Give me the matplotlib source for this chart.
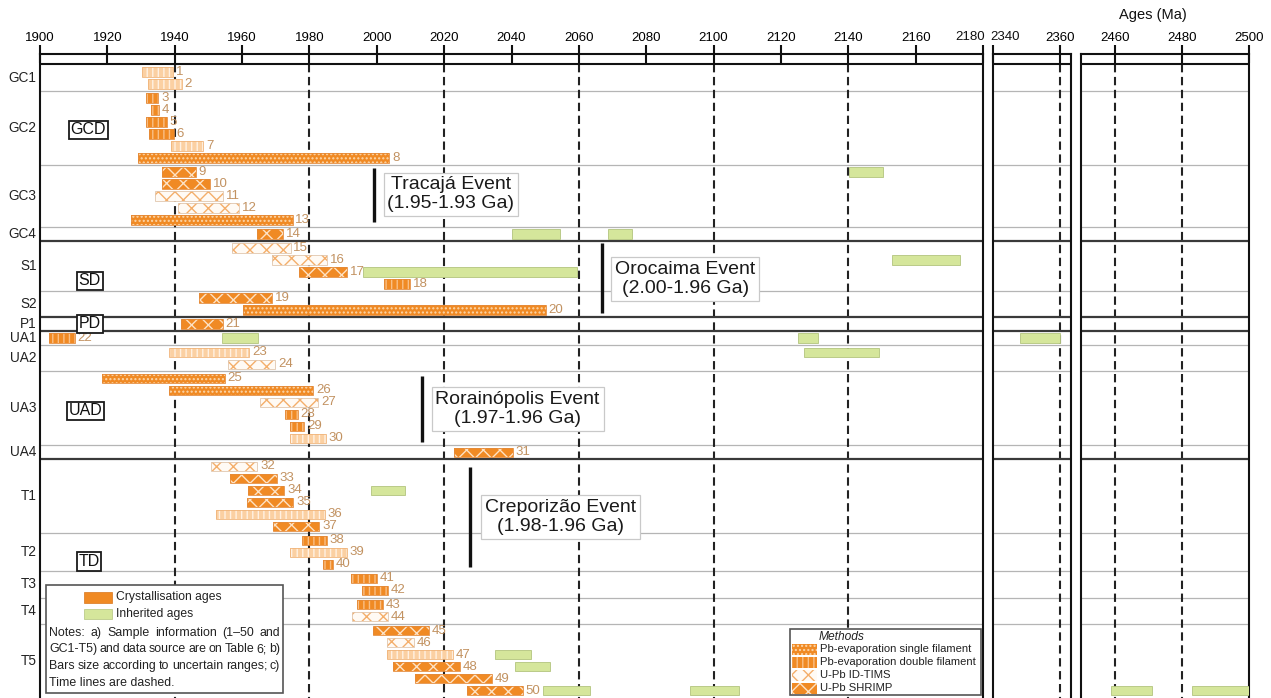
import matplotlib
matplotlib.use("Agg")
import matplotlib.pyplot as plt
from matplotlib import font_manager
from matplotlib.patches import Rectangle
from matplotlib.transforms import blended_transform_factory

plt.rcParams["font.family"] = ["Liberation Sans", "DejaVu Sans"]
plt.rcParams["hatch.linewidth"] = 1.0

_installed = {f.name for f in font_manager.fontManager.ttflist}
NARROW = "Liberation Sans Narrow" if "Liberation Sans Narrow" in _installed else "Liberation Sans"

# ---------------------------------------------------------------- data
sample_ids = list(range(1, 51))
age_min = [1930.2, 1932.2, 1931.4, 1932.9, 1931.4, 1932.5, 1938.8, 1929.0, 1936.3, 1936.3,
           1934.1, 1941.1, 1927.0, 1964.5, 1956.9, 1968.8, 1977.0, 2002.1, 1947.2, 1960.4,
           1941.9, 1902.8, 1938.4, 1955.7, 1918.3, 1938.3, 1965.3, 1972.7, 1974.2, 1974.2,
           2022.9, 1950.8, 1956.4, 1961.8, 1961.4, 1952.3, 1969.3, 1977.8, 1974.2, 1984.1,
           1992.3, 1995.7, 1994.2, 1992.5, 1998.8, 2002.9, 2002.9, 2004.9, 2011.3, 2026.7]
age_max = [1939.6, 1942.1, 1935.1, 1935.4, 1937.6, 1939.8, 1948.5, 2003.7, 1946.3, 1950.5,
           1954.4, 1959.2, 1975.0, 1972.2, 1974.4, 1985.3, 1991.2, 2009.9, 1968.8, 2050.1,
           1954.2, 1910.4, 1962.1, 1969.8, 1954.9, 1981.1, 1982.6, 1976.5, 1978.5, 1984.9,
           2040.3, 1964.5, 1970.3, 1972.5, 1975.2, 1984.6, 1982.9, 1985.1, 1991.1, 1986.9,
           2000.1, 2003.2, 2001.7, 2003.2, 2015.6, 2010.9, 2022.7, 2024.7, 2034.1, 2043.3]
# PbSF = Pb-evaporation single filament, PbDF = Pb-evaporation double filament,
# PbDF-p = double filament (pale), TIMS = U-Pb ID-TIMS, SHRIMP = U-Pb SHRIMP
method = ["PbDF-p", "PbDF-p", "PbDF", "PbDF", "PbDF", "PbDF", "PbDF-p", "PbSF", "SHRIMP", "SHRIMP",
          "TIMS", "TIMS", "PbSF", "SHRIMP", "TIMS", "TIMS", "SHRIMP", "PbDF", "SHRIMP", "PbSF",
          "SHRIMP", "PbDF", "PbDF-p", "TIMS", "PbSF", "PbSF", "TIMS", "PbDF", "PbDF", "PbDF-p",
          "SHRIMP", "TIMS", "SHRIMP", "SHRIMP", "SHRIMP", "PbDF-p", "SHRIMP", "PbDF", "PbDF-p", "PbDF",
          "PbDF", "PbDF", "PbDF", "TIMS", "SHRIMP", "TIMS", "PbDF-p", "SHRIMP", "SHRIMP", "SHRIMP"]

group_names = ["GC1", "GC2", "GC3", "GC4", "S1", "S2", "P1", "UA1", "UA2", "UA3", "UA4",
               "T1", "T2", "T3", "T4", "T5"]
group_members = [[1, 2], [3, 4, 5, 6, 7, 8], [9, 10, 11, 12, 13], [14],
                 [15, 16, 17, 18], [19, 20], [21], [22], [23, 24],
                 [25, 26, 27, 28, 29, 30], [31], [32, 33, 34, 35, 36, 37],
                 [38, 39, 40], [41, 42], [43, 44], [45, 46, 47, 48, 49, 50]]
group_domain = ["GCD", "GCD", "GCD", "GCD", "SD", "SD", "PD", "UAD", "UAD", "UAD", "UAD",
                "TD", "TD", "TD", "TD", "TD"]

inherited_sample = [9, 14, 14, 16, 17, 22, 22, 22, 23, 34, 47, 48, 50, 50, 50, 50]
inherited_min = [2140.3, 2040.0, 2068.7, 2152.9, 1995.8, 1954.0, 2125.0, 2348.0, 2126.8,
                 1998.3, 2035.1, 2041.0, 2049.4, 2093.0, 2459.0, 2483.0]
inherited_max = [2150.2, 2054.4, 2075.7, 2173.2, 2059.3, 1964.6, 2131.1, 2360.0, 2149.2,
                 2008.4, 2045.7, 2051.4, 2063.3, 2107.6, 2471.0, 2500.0]

event_names = ["Tracajá Event", "Orocaima Event", "Rorainópolis Event", "Creporizão Event"]
event_ranges = ["(1.95-1.93 Ga)", "(2.00-1.96 Ga)", "(1.97-1.96 Ga)", "(1.98-1.96 Ga)"]

ticks_main = list(range(1900, 2181, 20))
ticks_mid = [2340, 2360]
ticks_right = [2460, 2480, 2500]
time_lines = [1940, 1980, 2020, 2060, 2100, 2140, 2360, 2460, 2480]

notes_lines = ["Notes: a) Sample information (1\u201350 and",
               "GC1-T5) and data source are on Table 6; b)",
               "Bars size according to uncertain ranges; c)",
               "Time lines are dashed."]
age_type_labels = ["Crystallisation ages", "Inherited ages"]
method_labels = ["Pb-evaporation single filament", "Pb-evaporation double filament",
                 "U-Pb ID-TIMS", "U-Pb SHRIMP"]
method_codes = ["PbSF", "PbDF", "TIMS", "SHRIMP"]

# ---------------------------------------------------------------- styles
ORANGE = "#f08a24"
GREEN = "#d5e69b"
GREEN_EDGE = "#b3c47e"
LABEL_COLOR = "#c29261"
STYLES = {  # fill, hatch colour, hatch, edge
    "PbSF": (ORANGE, "#fcd6aa", "....", "#e48a3a"),
    "PbDF": (ORANGE, "#f9bf85", "|||", "#e48a3a"),
    "PbDF-p": ("#fbd0a2", "#fff1e2", "|||", "#f0b47a"),
    "TIMS": ("#fffaf4", "#f4ae6a", "xx", "#e0c6ad"),
    "SHRIMP": (ORANGE, "#fde2c4", "xx", "#e48a3a"),
}
BAR_H = 0.8
GAP = 0.17

W, H = 1271, 698
fig = plt.figure(figsize=(W / 100, H / 100), dpi=100)

# row layout: one slot per sample, a small extra gap between groups
row_y = {}
y = 0.0
for gi, members in enumerate(group_members):
    if gi > 0:
        y += GAP
    for s in members:
        row_y[s] = y
        y += 1
Y_TOP, Y_BAND, Y_BOTTOM = -1.5, -0.667, 52.17

PX_PER_MA = 3.368
TOP_PX = 54
panels = [(40, 1900, 2180, ticks_main),
          (992.7, 2340, 2340 + 78 / PX_PER_MA, ticks_mid),
          (1081.0, 2450, 2500, ticks_right)]
# labels of the two ticks where the panels meet are set by hand (ragged alignment)
edge_labels = {2180: ("right", 984.5), 2340: ("left", 990.5)}

axes = []
for left_px, x0, x1, ticks in panels:
    width_px = (x1 - x0) * PX_PER_MA
    ax = fig.add_axes([left_px / W, 0, width_px / W, (H - TOP_PX) / H])
    ax.set_xlim(x0, x1)
    ax.set_ylim(Y_BOTTOM, Y_TOP)
    ax.set_yticks([])
    ax.set_xticks(ticks, labels=["" if t in edge_labels else str(t) for t in ticks])
    ax.tick_params(axis="x", top=True, bottom=False, labeltop=True, labelbottom=False,
                   direction="inout", length=13, width=1.5, labelsize=9.5, pad=0.5,
                   color="#111")
    for side in ("top", "left", "right"):
        ax.spines[side].set_linewidth(1.5)
        ax.spines[side].set_color("#111")
    ax.spines["bottom"].set_visible(False)
    ax.axhline(Y_BAND, color="#111", lw=1.5, zorder=2)

    # time lines
    for t in time_lines:
        if x0 < t < x1:
            ax.vlines(t, Y_BAND, Y_BOTTOM, colors="#222", lw=1.5,
                      linestyles=(0, (4, 2.2)), zorder=1)

    # group / domain separators
    for gi in range(1, len(group_members)):
        ysep = (row_y[group_members[gi - 1][-1]] + row_y[group_members[gi][0]]) / 2
        if group_domain[gi] != group_domain[gi - 1]:
            ax.axhline(ysep, color="#3a3a3a", lw=1.6, zorder=2)
        else:
            ax.axhline(ysep, color="#b5b5b5", lw=0.9, zorder=0.5)

    # inherited ages
    for s, a, b in zip(inherited_sample, inherited_min, inherited_max):
        ax.barh(row_y[s], b - a, left=a, height=BAR_H, color=GREEN,
                edgecolor=GREEN_EDGE, lw=0.6, zorder=3)
    axes.append(ax)

ax1 = axes[0]

# crystallisation ages
for s, a, b, m in zip(sample_ids, age_min, age_max, method):
    fc, hc, hatch, ec = STYLES[m]
    yy = row_y[s]
    ax1.barh(yy, b - a, left=a, height=BAR_H, color=fc, lw=0, zorder=3)
    ax1.barh(yy, b - a, left=a, height=BAR_H, facecolor="none", edgecolor=hc, lw=0,
             hatch=hatch, zorder=3.1)
    ax1.barh(yy, b - a, left=a, height=BAR_H, facecolor="none", edgecolor=ec, lw=0.6,
             zorder=3.2)
    ax1.annotate(str(s), xy=(b, yy), xytext=(2.0, 0), textcoords="offset points",
                 va="center", ha="left", fontsize=9.5, color=LABEL_COLOR, zorder=6)

# group labels on the left
lbl_tr = blended_transform_factory(ax1.transAxes, ax1.transData)
for name, members in zip(group_names, group_members):
    yc = (row_y[members[0]] + row_y[members[-1]]) / 2
    ax1.text(-0.0035, yc, name, transform=lbl_tr, ha="right", va="center",
             fontsize=9.8, color="#222")

# domain boxes
domain_names = ["GCD", "SD", "PD", "UAD", "TD"]
domain_pos = [(1914.3, 4.83), (1914.8, 17.4), (1914.8, 21.0), (1913.5, 28.25), (1914.6, 40.8)]
for name, (dx, dy) in zip(domain_names, domain_pos):
    ax1.text(dx, dy, name, ha="center", va="center", fontsize=11.5, color="#111", zorder=6,
             bbox=dict(boxstyle="square,pad=0.1", fc="white", ec="#1a1a1a", lw=1.3))

# event markers
event_line_x = [1999.2, 2066.8, 2013.4, 2027.7]
event_line_y = [(8.0, 12.5), (14.25, 20.1), (25.3, 30.8), (32.9, 41.25)]
event_text_pos = [(2022.0, 10.2), (2091.6, 17.25), (2041.8, 28.1), (2054.5, 37.1)]
for name, rng, lx, (ly0, ly1), (tx, ty) in zip(event_names, event_ranges, event_line_x,
                                               event_line_y, event_text_pos):
    ax1.plot([lx, lx], [ly0, ly1], color="#111", lw=2.4, solid_capstyle="butt", zorder=6)
    ax1.text(tx, ty, name + "\n" + rng, ha="center", va="center", fontsize=14,
             linespacing=1.15, color="#1a1a1a", zorder=7,
             bbox=dict(boxstyle="square,pad=0.2", fc="white", ec="#c9c9c9", lw=0.9))

# ---------------------------------------------------------------- overlay in pixel units
ov = fig.add_axes([0, 0, 1, 1])
ov.set_xlim(0, W)
ov.set_ylim(H, 0)
ov.axis("off")
ov.set_zorder(10)
ov.patch.set_alpha(0)

ov.text(1153, 15, "Ages (Ma)", ha="center", va="center", fontsize=10.5, color="#111")
for t, (ha, xpx) in edge_labels.items():
    ov.text(xpx, 37.5, str(t), ha=ha, va="center", fontsize=9.5, color="#111")

renderer = fig.canvas.get_renderer()


def text_width(s, size, **kw):
    t = ov.text(0, 0, s, fontsize=size, family=NARROW, **kw)
    w = t.get_window_extent(renderer).width
    t.remove()
    return w


def words_width(line, size, min_space):
    words = line.split(" ")
    return sum(text_width(w, size) for w in words) + min_space * (len(words) - 1)


# size the notes font so the widest justified line fits its box with tight spaces
NOTE_W = 231
widest = max(words_width(line, 10.0, 2.5) for line in notes_lines[:3])
note_size = min(10.0, 10.0 * NOTE_W / widest)

# legend: age types and notes
legend_size = 10.0 * 106 / text_width(age_type_labels[0], 10.0)
ov.add_patch(Rectangle((46, 585), 237, 108, fc="white", ec="#555", lw=1.2))
ov.add_patch(Rectangle((84, 592), 28, 10.5, fc=ORANGE, ec="#d8761c", lw=0.5))
ov.add_patch(Rectangle((84, 609), 28, 10, fc=GREEN, ec=GREEN_EDGE, lw=0.5))
for label, yc in zip(age_type_labels, [597, 614]):
    ov.text(116, yc, label, va="center", ha="left", fontsize=legend_size,
            family=NARROW, color="#222")


def justified_line(text, x_left, x_right, yc, justify, **kw):
    words = text.split(" ")
    if not justify:
        ov.text(x_left, yc, text, va="center", ha="left", **kw)
        return
    objs = [ov.text(0, yc, w, va="center", ha="left", **kw) for w in words]
    widths = [o.get_window_extent(renderer).width for o in objs]
    space = (x_right - x_left - sum(widths)) / (len(words) - 1)
    x = x_left
    for o, w in zip(objs, widths):
        o.set_x(x)
        x += w + space


note_y = [632.7, 649.3, 666.0, 682.7]
for i, (line, yc) in enumerate(zip(notes_lines, note_y)):
    justified_line(line, 49, 280, yc, i < 3, fontsize=note_size, family=NARROW, color="#222")

# legend: methods
METHOD_W = 157
method_size = 10.0 * METHOD_W / max(text_width(lbl, 10.0) for lbl in method_labels)

ov.add_patch(Rectangle((790, 629), 191, 66, fc="white", ec="#555", lw=1.2))
ov.text(842, 637, "Methods", ha="center", va="center", fontsize=method_size + 0.5,
        style="italic", family=NARROW, color="#222")
for code, label, yc in zip(method_codes, method_labels, [649, 662, 675.3, 688]):
    fc, hc, hatch, ec = STYLES[code]
    ov.add_patch(Rectangle((792, yc - 5.5), 25, 11, fc=fc, lw=0))
    ov.add_patch(Rectangle((792, yc - 5.5), 25, 11, fc="none", ec=hc, lw=0, hatch=hatch))
    ov.text(820, yc, label, va="center", ha="left", fontsize=method_size, family=NARROW,
            color="#222")

fig.savefig("out.png", dpi=100)
